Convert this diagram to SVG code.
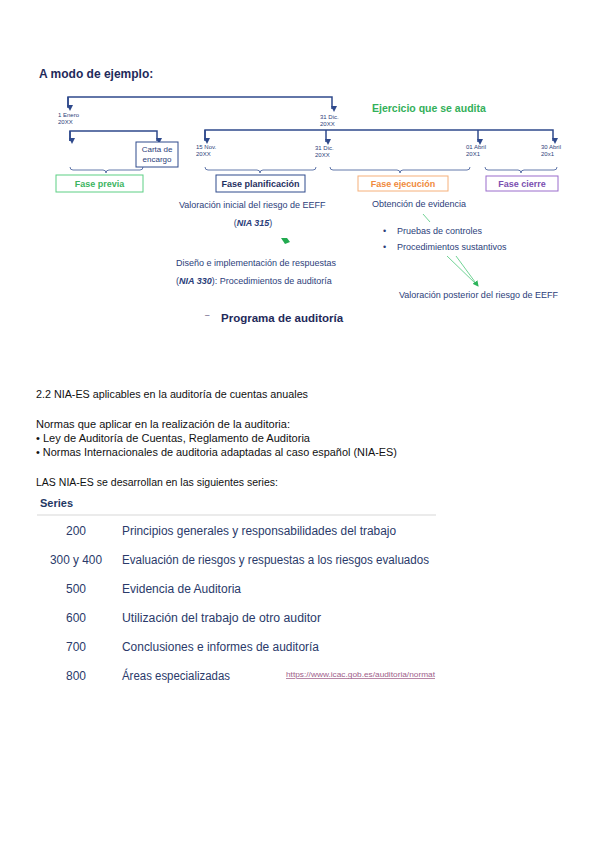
<svg xmlns="http://www.w3.org/2000/svg" width="599" height="848" viewBox="0 0 599 848">
<defs>
<marker id="ah" markerWidth="6" markerHeight="6" refX="3" refY="5" orient="auto" markerUnits="userSpaceOnUse" viewBox="0 0 6 6">
<path d="M0,0 L6,0 L3,6 Z" fill="#2f4a8c" transform="rotate(-90 3 3)"/>
</marker>
<marker id="gah" markerWidth="6" markerHeight="6" refX="5" refY="3" orient="auto" markerUnits="userSpaceOnUse" viewBox="0 0 6 6">
<path d="M0,0 L6,3 L0,6 Z" fill="#2db35a"/>
</marker>
<style>
.ln{fill:none;stroke:#2f4a8c;stroke-width:1.5}
.br{fill:none;stroke:#3a5596;stroke-width:0.8}
.dt{font-family:"Liberation Sans",Arial,sans-serif;font-size:6px;fill:#2c3e7a}
.tx{font-family:"Liberation Sans",Arial,sans-serif;font-size:8px;fill:#2c3e7a}
.tx9{font-family:"Liberation Sans",Arial,sans-serif;font-size:9px;fill:#2c3e7a}
.ph{font-family:"Liberation Sans",Arial,sans-serif;font-size:9px;font-weight:bold;text-anchor:middle}
.bd{font-family:"Liberation Sans",Arial,sans-serif;font-size:10px;fill:#111}
.sn{font-family:"Liberation Sans",Arial,sans-serif;font-size:12px;fill:#2a3a6a;text-anchor:middle}
.st{font-family:"Liberation Sans",Arial,sans-serif;font-size:12px;fill:#2a3a6a}
.gl{stroke:#4cc87a;stroke-width:0.8;fill:none}
</style>
</defs>
<rect width="599" height="848" fill="#ffffff"/>

<text x="39" y="78" font-family="Liberation Sans,Arial,sans-serif" font-size="12" font-weight="bold" fill="#1f2a5a">A modo de ejemplo:</text>

<g id="connectors">
<path class="ln" d="M68,107 V97 H332 V109" marker-end="url(#ah)"/>
<line class="ln" x1="68" y1="97" x2="68" y2="108" marker-end="url(#ah)"/>
<path class="ln" d="M70,141 V131 H157 V141" marker-end="url(#ah)"/>
<line class="ln" x1="70" y1="131" x2="70" y2="141" marker-end="url(#ah)"/>
<path class="ln" d="M205,140 V130 H553 V141" marker-end="url(#ah)"/>
<line class="ln" x1="205" y1="130" x2="205" y2="141" marker-end="url(#ah)"/>
<line class="ln" x1="326" y1="130" x2="326" y2="142" marker-end="url(#ah)"/>
<line class="ln" x1="478" y1="130" x2="478" y2="142" marker-end="url(#ah)"/>
<path class="br" d="M70,167 q0,3 3,3 H103 q3,0 3,3 q0,-3 3,-3 H140 q3,0 3,-3"/>
<path class="br" d="M205,167 q0,3 3,3 H257 q3,0 3,3 q0,-3 3,-3 H313 q3,0 3,-3"/>
<path class="br" d="M330,167 q0,3 3,3 H397 q3,0 3,3 q0,-3 3,-3 H467 q3,0 3,-3"/>
<path class="br" d="M485,167 q0,3 3,3 H518 q3,0 3,3 q0,-3 3,-3 H554 q3,0 3,-3"/>
<line class="gl" x1="423" y1="214" x2="430" y2="222"/>
<line class="gl" x1="447" y1="256" x2="477" y2="285"/>
<line class="gl" x1="456" y1="256" x2="478" y2="286" marker-end="url(#gah)"/>
<path d="M281,238 L287,238 L290,242 L285,244 Z" fill="#22aa50"/>
</g>

<g id="dates">
<text class="dt" x="58" y="117">1 Enero</text><text class="dt" x="58" y="124">20XX</text>
<text class="dt" x="320" y="119">31 Dic.</text><text class="dt" x="320" y="126">20XX</text>
<text class="dt" x="196" y="149">15 Nov.</text><text class="dt" x="196" y="156">20XX</text>
<text class="dt" x="315" y="150">31 Dic.</text><text class="dt" x="315" y="157">20XX</text>
<text class="dt" x="466" y="149">01 Abril</text><text class="dt" x="466" y="156">20X1</text>
<text class="dt" x="541" y="149">30 Abril</text><text class="dt" x="541" y="156">20x1</text>
</g>

<text x="372" y="112" font-family="Liberation Sans,Arial,sans-serif" font-size="10.5" font-weight="bold" fill="#33b05a">Ejercicio que se audita</text>

<g id="carta">
<rect x="136" y="142" width="42" height="25" fill="#fff" stroke="#2f4a8c" stroke-width="1"/>
<text class="tx" x="157" y="152" text-anchor="middle">Carta de</text>
<text class="tx" x="157" y="162" text-anchor="middle">encargo</text>
</g>
<g id="fase-previa">
<rect x="56" y="175" width="87" height="17" fill="#fff" stroke="#5ccf84" stroke-width="1"/>
<text class="ph" x="99.5" y="187" fill="#3cb55f">Fase previa</text>
</g>
<g id="fase-planificacion">
<rect x="216" y="175" width="89" height="17" fill="#fff" stroke="#2f4a8c" stroke-width="1"/>
<text class="ph" x="260.5" y="187" fill="#1f2f5f">Fase planificación</text>
</g>
<g id="fase-ejecucion">
<rect x="358" y="176" width="90" height="15" fill="#fff" stroke="#f6b07a" stroke-width="1"/>
<text class="ph" x="403" y="187" fill="#f08a3c">Fase ejecución</text>
</g>
<g id="fase-cierre">
<rect x="486" y="176" width="72" height="15" fill="#fff" stroke="#9a6ccc" stroke-width="1"/>
<text class="ph" x="522" y="187" fill="#7b4fb0">Fase cierre</text>
</g>

<g id="planificacion-texts">
<text class="tx9" x="179" y="208">Valoración inicial del riesgo de EEFF</text>
<text class="tx9" x="253" y="226" text-anchor="middle">(<tspan font-weight="bold" font-style="italic">NIA 315</tspan>)</text>
<text class="tx9" x="176" y="266">Diseño e implementación de respuestas</text>
<text class="tx9" x="176" y="284">(<tspan font-weight="bold" font-style="italic">NIA 330</tspan>): Procedimientos de auditoría</text>
<text x="205" y="317" font-family="Liberation Sans,Arial,sans-serif" font-size="8" fill="#1f2a5a">–</text>
<text x="221" y="322" font-family="Liberation Sans,Arial,sans-serif" font-size="11.5" font-weight="bold" fill="#1f2a5a">Programa de auditoría</text>
</g>
<g id="ejecucion-texts">
<text class="tx9" x="372" y="207">Obtención de evidencia</text>
<text class="tx9" x="383" y="234">•</text><text class="tx9" x="397" y="234">Pruebas de controles</text>
<text class="tx9" x="383" y="250">•</text><text class="tx9" x="397" y="250">Procedimientos sustantivos</text>
<text class="tx9" x="399" y="298">Valoración posterior del riesgo de EEFF</text>
</g>

<g id="body">
<text class="bd" x="36" y="398" textLength="272" lengthAdjust="spacingAndGlyphs">2.2 NIA-ES aplicables en la auditoría de cuentas anuales</text>
<text class="bd" x="36" y="428" textLength="254" lengthAdjust="spacingAndGlyphs">Normas que aplicar en la realización de la auditoria:</text>
<text class="bd" x="36" y="442" textLength="274" lengthAdjust="spacingAndGlyphs">• Ley de Auditoría de Cuentas, Reglamento de Auditoria</text>
<text class="bd" x="36" y="456" textLength="361" lengthAdjust="spacingAndGlyphs">• Normas Internacionales de auditoria adaptadas al caso español (NIA-ES)</text>
<text class="bd" x="36" y="486" textLength="242" lengthAdjust="spacingAndGlyphs">LAS NIA-ES se desarrollan en las siguientes series:</text>
</g>

<g id="series">
<text x="40" y="507" font-family="Liberation Sans,Arial,sans-serif" font-size="11" font-weight="bold" fill="#1f3864">Series</text>
<line x1="37" y1="515" x2="436" y2="515" stroke="#e4e4e4" stroke-width="1.5"/>
<text class="sn" x="76" y="535">200</text>
<text class="st" x="122" y="535" textLength="274" lengthAdjust="spacingAndGlyphs">Principios generales y responsabilidades del trabajo</text>
<text class="sn" x="76" y="564" textLength="52" lengthAdjust="spacingAndGlyphs">300 y 400</text>
<text class="st" x="122" y="564" textLength="307" lengthAdjust="spacingAndGlyphs">Evaluación de riesgos y respuestas a los riesgos evaluados</text>
<text class="sn" x="76" y="593">500</text>
<text class="st" x="122" y="593" textLength="119" lengthAdjust="spacingAndGlyphs">Evidencia de Auditoria</text>
<text class="sn" x="76" y="622">600</text>
<text class="st" x="122" y="622" textLength="199" lengthAdjust="spacingAndGlyphs">Utilización del trabajo de otro auditor</text>
<text class="sn" x="76" y="651">700</text>
<text class="st" x="122" y="651" textLength="197" lengthAdjust="spacingAndGlyphs">Conclusiones e informes de auditoría</text>
<text class="sn" x="76" y="680">800</text>
<text class="st" x="122" y="680" textLength="108" lengthAdjust="spacingAndGlyphs">Áreas especializadas</text>
<text x="286" y="677" font-family="Liberation Sans,Arial,sans-serif" font-size="7.5" fill="#a0608a" text-decoration="underline" textLength="149" lengthAdjust="spacingAndGlyphs">https://www.icac.gob.es/auditoria/normat</text>
</g>
</svg>
